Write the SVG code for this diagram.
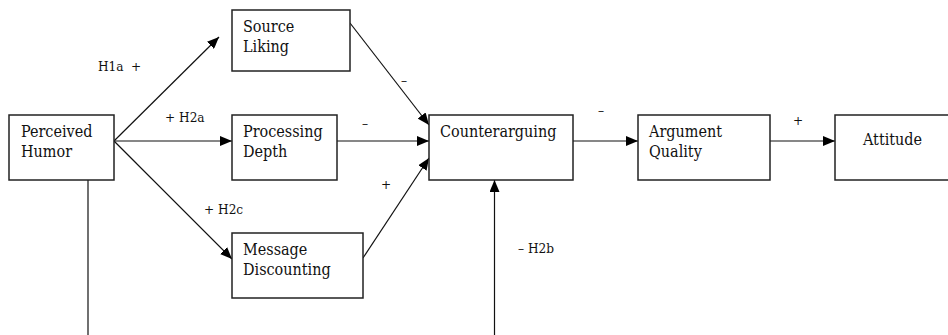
<svg xmlns="http://www.w3.org/2000/svg" width="948" height="335" viewBox="0 0 948 335">
<style>
.box{fill:#fff;stroke:#222;stroke-width:1.5}
.t{font-size:16px;fill:#111}
.l{font-size:13.5px;fill:#111}
.c{stroke:#111;stroke-width:1.2;fill:none}
</style>
<defs>
<marker id="ah" markerUnits="userSpaceOnUse" markerWidth="12" markerHeight="10" viewBox="0 0 12 10" refX="12" refY="5" orient="auto">
<path d="M0,0 L12,5 L0,10 Z" fill="#000"/>
</marker>
</defs>
<rect width="948" height="335" fill="#fff"/>
<g id="connectors">
<line class="c" x1="114" y1="141" x2="219" y2="37" marker-end="url(#ah)"/>
<line class="c" x1="114" y1="141" x2="232" y2="141" marker-end="url(#ah)"/>
<line class="c" x1="114" y1="141" x2="232" y2="259" marker-end="url(#ah)"/>
<line class="c" x1="350" y1="23" x2="429" y2="125" marker-end="url(#ah)"/>
<line class="c" x1="337" y1="141" x2="429" y2="141" marker-end="url(#ah)"/>
<line class="c" x1="363" y1="258" x2="429" y2="158" marker-end="url(#ah)"/>
<line class="c" x1="573" y1="141" x2="638" y2="141" marker-end="url(#ah)"/>
<line class="c" x1="770" y1="141" x2="835" y2="141" marker-end="url(#ah)"/>
<line class="c" x1="494.5" y1="335" x2="494.5" y2="180" marker-end="url(#ah)"/>
<line class="c" x1="88" y1="180" x2="88" y2="335"/>
</g>
<g id="labels" font-family="DejaVu Serif Condensed, DejaVu Serif, serif" font-stretch="condensed">
<text class="l" x="98" y="71">H1a<tspan x="131">+</tspan></text>
<text class="l" x="165" y="122">+ H2a</text>
<text class="l" x="204" y="214">+ H2c</text>
<text class="l" x="518" y="253">– H2b</text>
<text class="l" x="404" y="85" text-anchor="middle">–</text>
<text class="l" x="365" y="128" text-anchor="middle">–</text>
<text class="l" x="386" y="189" text-anchor="middle">+</text>
<text class="l" x="601" y="115" text-anchor="middle">–</text>
<text class="l" x="798" y="125" text-anchor="middle">+</text>
</g>
<g id="nodes" font-family="DejaVu Serif Condensed, DejaVu Serif, serif" font-stretch="condensed">
<g id="perceived-humor">
<rect class="box" x="9" y="115" width="105" height="65"/>
<text class="t" x="21" y="137">Perceived</text>
<text class="t" x="21" y="157">Humor</text>
</g>
<g id="source-liking">
<rect class="box" x="232" y="10" width="118" height="61"/>
<text class="t" x="243" y="32">Source</text>
<text class="t" x="243" y="52">Liking</text>
</g>
<g id="processing-depth">
<rect class="box" x="232" y="115" width="105" height="65"/>
<text class="t" x="243" y="137">Processing</text>
<text class="t" x="243" y="157">Depth</text>
</g>
<g id="message-discounting">
<rect class="box" x="232" y="233" width="131" height="65"/>
<text class="t" x="243" y="255">Message</text>
<text class="t" x="243" y="275">Discounting</text>
</g>
<g id="counterarguing">
<rect class="box" x="429" y="115" width="144" height="65"/>
<text class="t" x="440" y="137">Counterarguing</text>
</g>
<g id="argument-quality">
<rect class="box" x="638" y="115" width="132" height="65"/>
<text class="t" x="649" y="137">Argument</text>
<text class="t" x="649" y="157">Quality</text>
</g>
<g id="attitude">
<rect class="box" x="835" y="115" width="120" height="65"/>
<text class="t" x="863" y="145">Attitude</text>
</g>
</g>
</svg>
